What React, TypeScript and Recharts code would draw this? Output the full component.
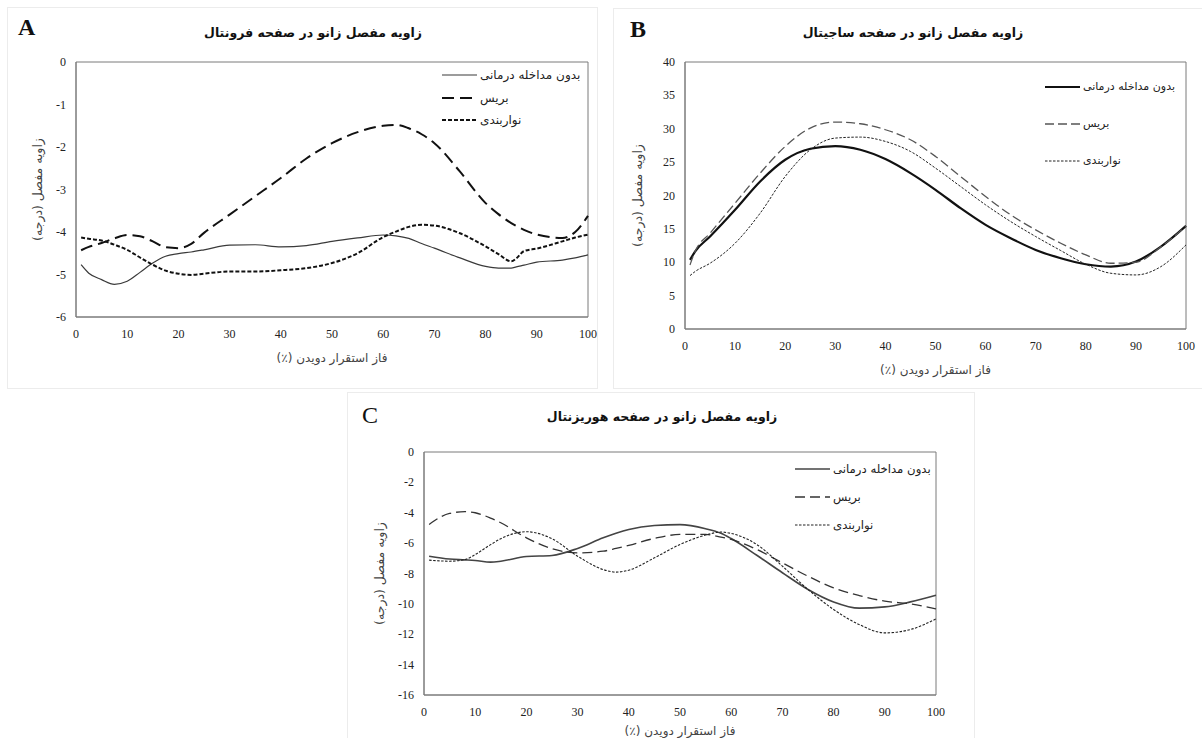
import { Legend, Line, LineChart, ReferenceArea, XAxis, YAxis } from "recharts";

const SERIF = '"Liberation Serif", "DejaVu Serif", serif';
const PERSIAN = '"DejaVu Sans", "Noto Sans", sans-serif';

const SERIES_NAMES = ["بدون مداخله درمانی", "بریس", "نواربندی"];
const X_LABEL = "فاز استقرار دویدن (٪)";
const Y_LABEL = "زاویه مفصل (درجه)";
const X_TICKS = [0, 10, 20, 30, 40, 50, 60, 70, 80, 90, 100];

// A: frontal plane
const TITLE_A = "زاویه مفصل زانو در صفحه فرونتال";
const Y_TICKS_A = [0, -1, -2, -3, -4, -5, -6];
const PHASE_A = [1, 2.5, 5, 7.5, 10, 12.5, 15, 17.5, 20, 22.5, 25, 30, 35, 40, 45, 50, 55, 60, 62.5, 65, 67.5, 70, 75, 80, 82.5, 85, 86, 87.5, 90, 95, 97.5, 100];
const A_NONE = [-4.77, -4.97, -5.12, -5.23, -5.16, -4.95, -4.73, -4.57, -4.51, -4.47, -4.42, -4.31, -4.3, -4.35, -4.32, -4.22, -4.14, -4.07, -4.09, -4.15, -4.27, -4.38, -4.61, -4.81, -4.85, -4.85, -4.82, -4.78, -4.71, -4.66, -4.61, -4.54];
const A_BRACE = [-4.43, -4.35, -4.26, -4.15, -4.07, -4.1, -4.22, -4.36, -4.38, -4.28, -4.02, -3.59, -3.16, -2.73, -2.27, -1.91, -1.65, -1.5, -1.48, -1.56, -1.7, -1.91, -2.58, -3.32, -3.58, -3.79, -3.86, -3.95, -4.06, -4.14, -4.0, -3.62];
const A_TAPE = [-4.13, -4.16, -4.2, -4.3, -4.42, -4.6, -4.77, -4.91, -4.98, -5.01, -4.98, -4.93, -4.93, -4.9, -4.85, -4.73, -4.5, -4.12, -3.99, -3.88, -3.83, -3.85, -4.03, -4.34, -4.52, -4.69, -4.62, -4.45, -4.39, -4.22, -4.13, -4.06];

// B: sagittal plane
const TITLE_B = "زاویه مفصل زانو در صفحه ساجیتال";
const Y_TICKS_B = [0, 5, 10, 15, 20, 25, 30, 35, 40];
const PHASE_B = [1, 2, 5, 10, 15, 20, 25, 30, 35, 40, 45, 50, 55, 60, 65, 70, 75, 80, 85, 90, 95, 100];
const B_NONE = [10.35, 11.6, 13.85, 17.85, 22.1, 25.35, 27.0, 27.4, 26.85, 25.45, 23.35, 20.85, 18.1, 15.6, 13.6, 11.85, 10.6, 9.7, 9.35, 10.1, 12.35, 15.45];
const B_BRACE = [9.6, 11.6, 14.35, 18.85, 23.35, 27.35, 30.1, 31.0, 30.75, 29.85, 28.35, 25.85, 22.85, 19.85, 17.1, 14.85, 12.85, 11.1, 9.85, 10.0, 12.3, 15.4];
const B_TAPE = [8.0, 8.6, 9.85, 12.85, 17.35, 22.85, 26.85, 28.6, 28.75, 28.1, 26.6, 24.1, 21.35, 18.6, 16.1, 13.85, 11.75, 9.7, 8.35, 8.1, 9.35, 12.6];

// C: horizontal plane
const TITLE_C = "زاویه مفصل زانو در صفحه هوریزنتال";
const Y_TICKS_C = [0, -2, -4, -6, -8, -10, -12, -14, -16];
const PHASE_C = [1, 5, 8, 10, 13, 15, 20, 25, 30, 35, 37.5, 40, 45, 50, 55, 58, 60, 65, 70, 75, 80, 85, 90, 95, 100];
const C_NONE = [-6.86, -7.05, -7.1, -7.14, -7.25, -7.19, -6.88, -6.81, -6.35, -5.65, -5.35, -5.1, -4.84, -4.78, -5.05, -5.35, -5.7, -6.8, -7.95, -9.05, -9.87, -10.28, -10.2, -9.87, -9.43];
const C_BRACE = [-4.77, -4.04, -3.93, -4.0, -4.35, -4.66, -5.65, -6.37, -6.64, -6.53, -6.35, -6.15, -5.69, -5.43, -5.43, -5.6, -5.76, -6.42, -7.3, -8.18, -8.95, -9.45, -9.82, -10.0, -10.33];
const C_TAPE = [-7.12, -7.19, -7.08, -6.75, -6.1, -5.71, -5.25, -5.71, -6.86, -7.74, -7.91, -7.78, -6.97, -6.09, -5.47, -5.27, -5.36, -6.09, -7.52, -9.05, -10.37, -11.36, -11.91, -11.69, -10.99];

type LineStyle = { stroke: string; width: number; dash?: string };

const KEYS = ["none", "brace", "tape"];

const toRows = (phase: number[], a: number[], b: number[], c: number[]) =>
  phase.map((x, i) => ({ x, none: a[i], brace: b[i], tape: c[i] }));

// serif tick labels like the original Excel figure
const XTick = ({ x, y, payload }: any) => (
  <text x={x} y={y + 13} textAnchor="middle" fontFamily={SERIF} fontSize={12} fill="#222">
    {payload.value}
  </text>
);
const YTick = ({ x, y, payload }: any) => (
  <text x={x - 2} y={y + 4} textAnchor="end" fontFamily={SERIF} fontSize={12} fill="#222">
    {payload.value}
  </text>
);

interface PanelProps {
  left: number;
  top: number;
  width: number;
  height: number;
  margin: { top: number; right: number; bottom: number; left: number };
  rows: Record<string, number>[];
  yDomain: [number, number];
  yTicks: number[];
  styles: LineStyle[];
  xAxisHeight: number;
  yLabelOffset: number;
  legend: { left: number; top: number; rowH: number; lineW: number; fontSize: number };
}

function Panel(p: PanelProps) {
  const axisColor = "#7a7a7a";
  return (
    <div style={{ position: "absolute", left: p.left, top: p.top }}>
      <LineChart width={p.width} height={p.height} data={p.rows} margin={p.margin}>
        <XAxis
          type="number"
          dataKey="x"
          domain={[0, 100]}
          ticks={X_TICKS}
          interval={0}
          tickLine={false}
          axisLine={{ stroke: axisColor }}
          tick={<XTick />}
          height={p.xAxisHeight}
          label={{
            value: X_LABEL,
            position: "insideBottom",
            offset: 0,
            style: { fontFamily: PERSIAN, fontSize: 12, fill: "#444", direction: "rtl" },
          }}
        />
        <YAxis
          type="number"
          domain={p.yDomain}
          ticks={p.yTicks}
          interval={0}
          tickLine={false}
          axisLine={{ stroke: axisColor }}
          tick={<YTick />}
          width={40}
          label={{
            value: Y_LABEL,
            position: "insideLeft",
            angle: -90,
            offset: p.yLabelOffset,
            style: { fontFamily: PERSIAN, fontSize: 12.5, fill: "#444", textAnchor: "middle", direction: "rtl" },
          }}
        />
        <ReferenceArea
          x1={0}
          x2={100}
          y1={p.yDomain[0]}
          y2={p.yDomain[1]}
          fill="none"
          stroke={axisColor}
          strokeWidth={1}
        />
        {KEYS.map((k, i) => (
          <Line
            key={k}
            type="monotone"
            dataKey={k}
            name={SERIES_NAMES[i]}
            stroke={p.styles[i].stroke}
            strokeWidth={p.styles[i].width}
            strokeDasharray={p.styles[i].dash}
            dot={false}
            activeDot={false}
            isAnimationActive={false}
          />
        ))}
        <Legend
          layout="vertical"
          align="center"
          verticalAlign="middle"
          wrapperStyle={{ left: p.legend.left, top: p.legend.top, width: 170, height: "auto" }}
          content={() => (
            <div>
              {p.styles.map((s, i) => (
                <div key={i} style={{ display: "flex", alignItems: "center", height: p.legend.rowH }}>
                  <svg width={p.legend.lineW} height={6} style={{ flex: "none" }}>
                    <line
                      x1={0}
                      y1={3}
                      x2={p.legend.lineW}
                      y2={3}
                      stroke={s.stroke}
                      strokeWidth={s.width}
                      strokeDasharray={s.dash}
                    />
                  </svg>
                  <span
                    dir="rtl"
                    style={{ marginLeft: 3, fontFamily: PERSIAN, fontSize: p.legend.fontSize, color: "#222" }}
                  >
                    {SERIES_NAMES[i]}
                  </span>
                </div>
              ))}
            </div>
          )}
        />
      </LineChart>
    </div>
  );
}

const STYLE_A: LineStyle[] = [
  { stroke: "#3a3a3a", width: 1.2 },
  { stroke: "#111", width: 2, dash: "12 6" },
  { stroke: "#111", width: 2, dash: "4 2" },
];
const STYLE_B: LineStyle[] = [
  { stroke: "#111", width: 2.2 },
  { stroke: "#555", width: 1.3, dash: "9 4" },
  { stroke: "#222", width: 1, dash: "2.5 1.5" },
];
const STYLE_C: LineStyle[] = [
  { stroke: "#444", width: 1.6 },
  { stroke: "#333", width: 1.3, dash: "10 5" },
  { stroke: "#222", width: 1.1, dash: "2.5 1.5" },
];

const frame = (left: number, top: number, width: number, height: number): React.CSSProperties => ({
  position: "absolute",
  left,
  top,
  width,
  height,
  border: "1px solid #ececec",
  boxSizing: "border-box",
});

const titleStyle = (cx: number, cy: number): React.CSSProperties => ({
  position: "absolute",
  left: cx - 200,
  top: cy - 10,
  width: 400,
  height: 20,
  lineHeight: "20px",
  textAlign: "center",
  fontFamily: PERSIAN,
  fontWeight: "bold",
  fontSize: 12.5,
  color: "#111",
});

const letterStyle = (x: number, y: number, bold: boolean): React.CSSProperties => ({
  position: "absolute",
  left: x,
  top: y,
  fontFamily: SERIF,
  fontWeight: bold ? "bold" : "normal",
  fontSize: 24,
  lineHeight: "24px",
  color: "#111",
});

export default function App() {
  return (
    <div style={{ position: "absolute", left: 0, top: 0, width: 1202, height: 738, background: "#fff", overflow: "hidden" }}>
      <div style={frame(7, 7, 591, 382)} />
      <div style={frame(613, 8, 600, 381)} />
      <div style={frame(347, 392, 628, 360)} />

      <div style={letterStyle(18, 15, true)}>A</div>
      <div style={letterStyle(630, 17, true)}>B</div>
      <div style={letterStyle(362, 403, false)}>C</div>

      <div dir="rtl" style={titleStyle(313, 33)}>{TITLE_A}</div>
      <div dir="rtl" style={titleStyle(913, 33)}>{TITLE_B}</div>
      <div dir="rtl" style={titleStyle(662, 417)}>{TITLE_C}</div>

      <Panel
        left={0}
        top={0}
        width={600}
        height={390}
        margin={{ top: 62, right: 12, bottom: 28, left: 36 }}
        rows={toRows(PHASE_A, A_NONE, A_BRACE, A_TAPE)}
        yDomain={[-6, 0]}
        yTicks={Y_TICKS_A}
        styles={STYLE_A}
        xAxisHeight={45}
        yLabelOffset={2}
        legend={{ left: 442, top: 64, rowH: 22.5, lineW: 35, fontSize: 12 }}
      />
      <Panel
        left={600}
        top={0}
        width={602}
        height={390}
        margin={{ top: 62, right: 16, bottom: 16, left: 45 }}
        rows={toRows(PHASE_B, B_NONE, B_BRACE, B_TAPE)}
        yDomain={[0, 40]}
        yTicks={Y_TICKS_B}
        styles={STYLE_B}
        xAxisHeight={45}
        yLabelOffset={-7}
        legend={{ left: 445, top: 68, rowH: 37, lineW: 35, fontSize: 11 }}
      />
      <Panel
        left={340}
        top={390}
        width={620}
        height={348}
        margin={{ top: 62, right: 24, bottom: 3, left: 44 }}
        rows={toRows(PHASE_C, C_NONE, C_BRACE, C_TAPE)}
        yDomain={[-16, 0]}
        yTicks={Y_TICKS_C}
        styles={STYLE_C}
        xAxisHeight={40}
        yLabelOffset={-4}
        legend={{ left: 455, top: 65, rowH: 28, lineW: 35, fontSize: 11.7 }}
      />
    </div>
  );
}
